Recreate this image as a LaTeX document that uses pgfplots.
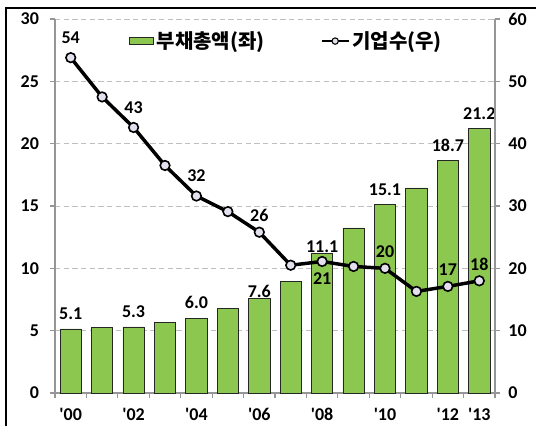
\documentclass[border=0pt]{standalone}
\usepackage{fontspec}
\setmainfont{Carlito}
\newfontfamily\kr{Noto Sans CJK KR}
\usepackage{pgfplots}
\pgfplotsset{compat=1.18}
\definecolor{bargreen}{RGB}{140,200,80}
\definecolor{mkfill}{RGB}{228,224,238}
\definecolor{gridc}{RGB}{191,191,191}
\definecolor{axc}{RGB}{150,150,150}
\begin{document}
\begin{tikzpicture}
\useasboundingbox (-41.25pt,-24.75pt) rectangle (360.75pt,294.75pt);
\draw[line width=1.5pt] (-36.75pt,-24.75pt) |- (360.75pt,288.4pt);
\begin{axis}[
  at={(0,0)}, anchor=south west,
  scale only axis, width=330pt, height=280.5pt,
  xmin=-0.5, xmax=13.5, ymin=0, ymax=30,
  ytick={0,5,...,30},
  ymajorgrids, grid style={dash pattern=on 4pt off 2.5pt, gridc, line width=0.6pt},
  axis x line*=bottom, axis y line*=left,
  x axis line style={-,axc,line width=0.8pt}, y axis line style={-,axc,line width=0.8pt},
  xtick={0,...,13},
  xticklabels={\textquotesingle00,,\textquotesingle02,,\textquotesingle04,,\textquotesingle06,,\textquotesingle08,,\textquotesingle10,,\textquotesingle12,\textquotesingle13},
  major x tick style={draw=none},
  minor xtick={-0.5,0.5,...,13.5},
  minor x tick style={axc,line width=0.8pt}, minor tick length=4pt,
  tick align=outside,
  major tick length=3.5pt,
  ytick style={axc,line width=0.8pt},
  tick label style={font=\fontsize{13.5}{15}\selectfont\bfseries},
  yticklabel style={xshift=-5pt},
  xticklabel style={yshift=-4pt},
  /pgf/number format/assume math mode=true,
]
\addplot[ybar, bar width=16pt, bar shift=0pt, fill=bargreen, draw=black!85, line width=0.6pt]
  coordinates {(0,5.14) (1,5.25) (2,5.3) (3,5.64) (4,6.0) (5,6.76) (6,7.57) (7,8.96) (8,11.18) (9,13.24) (10,15.1) (11,16.45) (12,18.67) (13,21.19)};
\addplot[draw=none, nodes near coords, point meta=explicit symbolic,
  nodes near coords style={anchor=center, yshift=11.5pt, font=\fontsize{13.5}{15}\selectfont\bfseries}]
  coordinates {(0,5.14)[5.1] (2,5.3)[5.3] (4,6.0)[6.0] (10,15.1)[15.1] (12,18.67)[18.7] (13,21.19)[21.2]};
\addplot[draw=none, nodes near coords, point meta=explicit symbolic,
  nodes near coords style={anchor=center, yshift=5.5pt, font=\fontsize{13.5}{15}\selectfont\bfseries}]
  coordinates {(6,7.57)[7.6] (8,11.18)[11.1]};
\end{axis}
\begin{axis}[
  at={(0,0)}, anchor=south west,
  scale only axis, width=330pt, height=280.5pt,
  xmin=-0.5, xmax=13.5, ymin=0, ymax=60,
  ytick={0,10,...,60},
  axis y line*=right, axis x line=none,
  y axis line style={-,axc,line width=0.8pt},
  ytick style={axc,line width=0.8pt},
  tick align=outside, major tick length=3.5pt,
  tick label style={font=\fontsize{13.5}{15}\selectfont\bfseries},
  yticklabel style={xshift=3pt},
  /pgf/number format/assume math mode=true,
  legend style={draw=none, fill=none, at={(0.168,0.941)}, anchor=west,
    legend columns=2, font=\kr\bfseries\fontsize{15}{17}\selectfont,
    /tikz/every even column/.append style={column sep=40pt},
    inner sep=0pt},
  legend cell align=left,
]
\addlegendimage{legend image code/.code={\draw[fill=bargreen,draw=black!85,line width=0.6pt] (0pt,-2.7pt) rectangle (18pt,2.7pt);}}
\addlegendentry{부채총액(좌)}
\addplot[black, line width=2.6pt, mark=*, mark size=3.6pt,
  mark options={fill=mkfill, draw=black, line width=1.2pt},
  legend image code/.code={\draw[black,line width=1.8pt] (0pt,0pt) -- (20pt,0pt); \draw[fill=mkfill,draw=black,line width=0.8pt] (10pt,0pt) circle (2.4pt);}]
  coordinates {(0,53.8) (1,47.5) (2,42.6) (3,36.5) (4,31.6) (5,29.1) (6,25.8) (7,20.5) (8,21.1) (9,20.3) (10,20.0) (11,16.3) (12,17.1) (13,18.0)};
\addlegendentry{기업수(우)}
\addplot[draw=none, nodes near coords, point meta=explicit symbolic,
  nodes near coords style={anchor=center, yshift=15pt, font=\fontsize{13.5}{15}\selectfont\bfseries}]
  coordinates {(0,53.8)[54] (2,42.6)[43] (4,31.6)[32]};
\addplot[draw=none, nodes near coords, point meta=explicit symbolic,
  nodes near coords style={anchor=center, yshift=12.5pt, font=\fontsize{13.5}{15}\selectfont\bfseries}]
  coordinates {(6,25.8)[26] (10,20.0)[20] (12,17.1)[17] (13,18.0)[18]};
\addplot[draw=none, nodes near coords, point meta=explicit symbolic,
  nodes near coords style={anchor=center, yshift=-13pt, font=\fontsize{13.5}{15}\selectfont\bfseries}]
  coordinates {(8,21.1)[21]};
\end{axis}
\end{tikzpicture}
\end{document}
